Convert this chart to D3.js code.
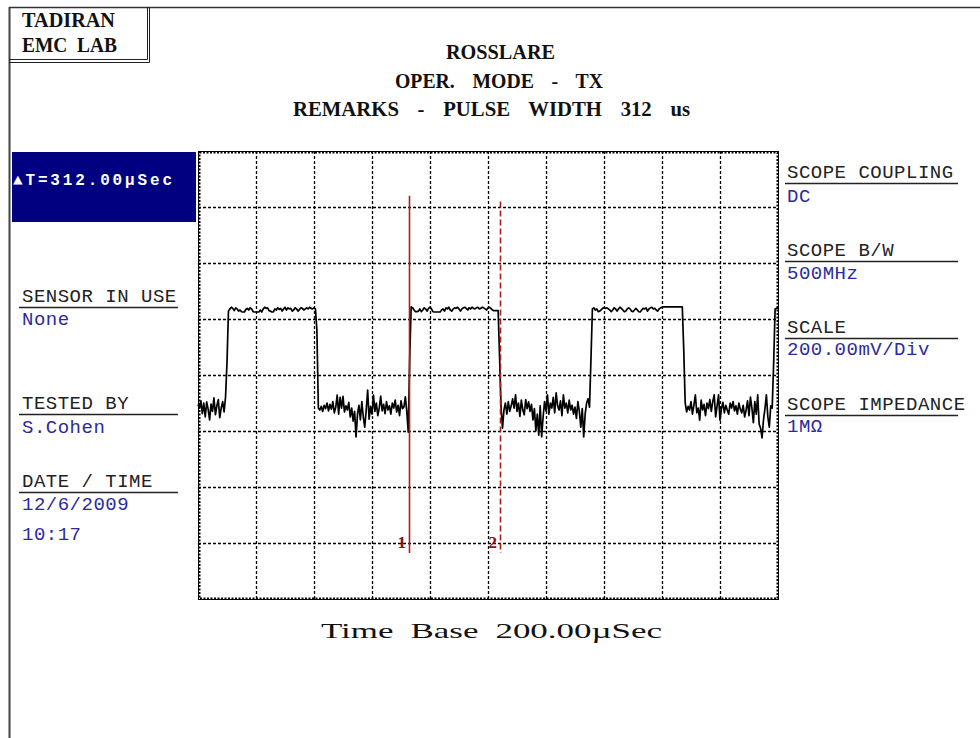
<!DOCTYPE html>
<html><head><meta charset="utf-8">
<script src="https://cdn.jsdelivr.net/npm/d3@7"></script>
<style>html,body{margin:0;padding:0;background:#fff;} svg{display:block;}</style>
</head><body>
<svg id="c" width="980" height="738"></svg>
<script>
// ---------------- DATA ----------------
const labName = ["TADIRAN", "EMC LAB"];
const titleLines = ["ROSSLARE", "OPER. MODE - TX", "REMARKS - PULSE WIDTH 312 us"];
const deltaText = "\u25B2T=312.00\u00B5Sec";
const timeBaseText = "Time Base 200.00\u00B5Sec";
const leftLabels = ["SENSOR IN USE", "TESTED BY", "DATE / TIME"];
const leftValues = [["None"], ["S.Cohen"], ["12/6/2009", "10:17"]];
const rightLabels = ["SCOPE COUPLING", "SCOPE B/W", "SCALE", "SCOPE IMPEDANCE"];
const rightValues = ["DC", "500MHz", "200.00mV/Div", "1M\u03A9"];

// axes: 10 div x 200 us, 8 div x 200 mV
const timeSpanUs = 2000;
const voltSpanMv = 800;
const timeGridUs = [200, 400, 600, 800, 1000, 1200, 1400, 1600, 1800];
const voltGridMv = [-600, -400, -200, 0, 200, 400, 600];

// cursors
const cursorTimesUs = [728, 1040];
const cursorTopMv = [640, 620];
const cursorBottomMv = -636;
const cursorNames = ["1", "2"];

// trace samples (mV), one every 5 us
const sampleUs = 5;
const segLow0 = [-105, -118, -92, -138, -100, -150, -96, -122, -160, -104, -130, -82, -142, -110, -88, -152, -118, -95, -132, -78];
const edgeRise1 = [45];
const segHigh1 = [228, 236, 242, 238, 230, 240, 236, 228, 232, 226,
  225, 225, 234, 238, 232, 240, 236, 226, 225, 225,
  225, 225, 232, 225, 236, 242, 238, 240, 230, 228,
  225, 225, 236, 232, 240, 234, 238, 228, 236, 242,
  232, 240, 236, 238, 228, 232, 240, 236, 228, 234,
  240, 238, 232, 236, 240, 236, 242, 238, 236, 240, 236];
const edgeFall1 = [160];
const segLow1 = [-118, -125, -112, -130, -108, -120, -100, -128, -105, -122,
  -95, -135, -115, -72, -140, -80, -118, -76, -132, -110,
  -125, -98, -150, -118, -165, -130, -221, -140, -108, -160,
  -95, -150, -186, -125, -54, -158, -112, -140, -72, -130,
  -100, -145, -118, -75, -128, -105, -138, -95, -125, -110,
  -140, -100, -118, -90, -132, -108, -145, -92, -120, -115,
  -78, -130, -204];
const edgeRise2 = [60];
const segHigh2 = [243, 240, 232, 226, 226, 228, 236, 226, 232, 240,
  236, 228, 238, 242, 236, 226, 225, 225, 225, 225,
  225, 232, 236, 228, 240, 236, 242, 232, 228, 236,
  240, 238, 242, 236, 228, 236, 240, 242, 238, 232,
  240, 236, 242, 238, 236, 240, 242, 236, 238, 242,
  240, 236, 232, 240, 242, 238, 232, 230, 230, 230, 230];
const edgeFall2 = [60];
const segLow2 = [-115, -190, -125, -100, -140, -95, -130, -110, -85, -118,
  -71, -130, -100, -148, -90, -125, -142, -88, -120, -96,
  -130, -105, -160, -120, -200, -140, -215, -110, -221, -150,
  -95, -128, -71, -140, -100, -118, -80, -135, -64, -110,
  -125, -92, -145, -71, -118, -100, -135, -90, -125, -108,
  -140, -115, -155, -95, -130, -186, -120, -221, -140, -100,
  -85, -115];
const edgeRise3 = [55];
const segHigh3 = [236, 240, 232, 236, 226, 228, 232, 238, 240, 238,
  240, 236, 232, 226, 232, 240, 236, 228, 236, 242,
  238, 232, 226, 228, 236, 240, 236, 228, 226, 232,
  238, 232, 226, 225, 232, 238, 236, 240, 228, 236,
  240, 242, 236, 238, 232, 228, 236, 240, 242, 243,
  243, 243, 243, 243, 243, 243, 243, 243, 243, 243,
  243, 243, 243];
const edgeFall3 = [90];
const segLow3 = [-100, -132, -112, -125, -95, -140, -108, -71, -135, -118,
  -161, -90, -125, -105, -145, -100, -120, -88, -130, -95,
  -71, -150, -110, -71, -161, -120, -98, -135, -108, -125,
  -140, -100, -118, -95, -128, -110, -140, -100, -122, -135,
  -108, -150, -125, -92, -145, -79, -118, -170, -95, -140,
  -71, -175, -190, -225, -160, -120, -71, -150, -186, -110,
  -118];
const edgeRise4 = [43];
const segHigh4 = [236, 238, 240];

// ---------------- DRAW ----------------
const traceMv = [].concat(segLow0, edgeRise1, segHigh1, edgeFall1, segLow1, edgeRise2,
  segHigh2, edgeFall2, segLow2, edgeRise3, segHigh3, edgeFall3, segLow3, edgeRise4, segHigh4);

const svg = d3.select("#c");
const P = {x0: 198, x1: 778, y0: 151, y1: 599};
const x = d3.scaleLinear().domain([0, timeSpanUs]).range([P.x0, P.x1]);
const y = d3.scaleLinear().domain([-voltSpanMv, voltSpanMv]).range([P.y1, P.y0]);

svg.append("rect").attr("width", 980).attr("height", 738).attr("fill", "#fff");

// page border lines
const border = svg.append("g").attr("fill", "none");
border.append("line").attr("x1", 9).attr("x2", 980).attr("y1", 7.5).attr("y2", 7.5).attr("stroke", "#333").attr("stroke-width", 1.5);
border.append("line").attr("x1", 9.5).attr("x2", 9.5).attr("y1", 7).attr("y2", 738).attr("stroke", "#444").attr("stroke-width", 2);
// lab box (double edge)
border.append("line").attr("x1", 147.5).attr("x2", 147.5).attr("y1", 7).attr("y2", 59.5).attr("stroke", "#222");
border.append("line").attr("x1", 149.5).attr("x2", 149.5).attr("y1", 7).attr("y2", 62.5).attr("stroke", "#222");
border.append("line").attr("x1", 9).attr("x2", 147.5).attr("y1", 59.5).attr("y2", 59.5).attr("stroke", "#222");
border.append("line").attr("x1", 9).attr("x2", 149.5).attr("y1", 62.5).attr("y2", 62.5).attr("stroke", "#222");

const serif = "'Liberation Serif', 'DejaVu Serif', serif";
const mono = "'Liberation Mono', 'DejaVu Sans Mono', monospace";

// lab name
const labPos = [{x: 22, y: 27, w: 93}, {x: 22, y: 52, w: 95}];
svg.selectAll("text.lab").data(labName).join("text").attr("class", "lab")
  .attr("x", (d, i) => labPos[i].x).attr("y", (d, i) => labPos[i].y)
  .attr("textLength", (d, i) => labPos[i].w).attr("lengthAdjust", "spacingAndGlyphs")
  .attr("word-spacing", 5)
  .attr("font-family", serif).attr("font-weight", "bold").attr("font-size", 20).attr("fill", "#111").text(d => d);

// title
const titlePos = [{x: 446, y: 59, w: 109}, {x: 395, y: 88, w: 208}, {x: 293, y: 116, w: 397}];
svg.selectAll("text.title").data(titleLines).join("text").attr("class", "title")
  .attr("x", (d, i) => titlePos[i].x).attr("y", (d, i) => titlePos[i].y)
  .attr("textLength", (d, i) => titlePos[i].w).attr("lengthAdjust", "spacingAndGlyphs")
  .attr("word-spacing", 13)
  .attr("font-family", serif).attr("font-weight", "bold").attr("font-size", 20).attr("fill", "#111").text(d => d);

// delta box
svg.append("rect").attr("x", 12).attr("y", 152).attr("width", 184).attr("height", 70).attr("fill", "#000080");
svg.append("text").attr("x", 13).attr("y", 185).attr("textLength", 159).attr("lengthAdjust", "spacing")
  .attr("font-family", mono).attr("font-weight", "bold").attr("font-size", 16).attr("fill", "#fff").text(deltaText);

// side panels
const blue = "#2b2b9c";
const leftLabelY = [302, 409, 487];
const leftValueY = [[325], [433], [510, 540]];
leftLabels.forEach((lab, i) => {
  svg.append("text").attr("x", 22).attr("y", leftLabelY[i]).attr("font-family", mono).attr("font-size", 19)
    .attr("letter-spacing", 0.5).attr("fill", "#222").text(lab);
  svg.append("line").attr("x1", 19).attr("x2", 178).attr("y1", leftLabelY[i] + 5.5).attr("y2", leftLabelY[i] + 5.5)
    .attr("stroke", "#222").attr("stroke-width", 1.5);
  leftValues[i].forEach((v, j) => {
    svg.append("text").attr("x", 22).attr("y", leftValueY[i][j]).attr("font-family", mono).attr("font-size", 19)
      .attr("letter-spacing", 0.5).attr("fill", blue).text(v);
  });
});
const rightLabelY = [178, 256, 333, 410];
const rightValueY = [202, 279, 355, 432];
rightLabels.forEach((lab, i) => {
  svg.append("text").attr("x", 787).attr("y", rightLabelY[i]).attr("font-family", mono).attr("font-size", 19)
    .attr("letter-spacing", 0.5).attr("fill", "#222").text(lab);
  svg.append("line").attr("x1", 785).attr("x2", 958).attr("y1", rightLabelY[i] + 5.5).attr("y2", rightLabelY[i] + 5.5)
    .attr("stroke", "#222").attr("stroke-width", 1.5);
  svg.append("text").attr("x", 787).attr("y", rightValueY[i]).attr("font-family", mono).attr("font-size", 19)
    .attr("letter-spacing", 0.5).attr("fill", blue).text(rightValues[i]);
});

// grid via axes
const gx = svg.append("g").attr("transform", `translate(0,${P.y1})`)
  .call(d3.axisBottom(x).tickValues(timeGridUs).tickSize(-(P.y1 - P.y0)).tickFormat(""));
const gy = svg.append("g").attr("transform", `translate(${P.x0},0)`)
  .call(d3.axisLeft(y).tickValues(voltGridMv).tickSize(-(P.x1 - P.x0)).tickFormat(""));
[gx, gy].forEach(g => {
  g.select(".domain").remove();
  g.selectAll(".tick line").attr("stroke", "#000").attr("stroke-width", 1.3).attr("stroke-dasharray", "3,2");
});

// frame
svg.append("rect").attr("x", P.x0 + 0.5).attr("y", P.y0 + 0.5).attr("width", P.x1 - P.x0).attr("height", P.y1 - P.y0)
  .attr("fill", "none").attr("stroke", "#000").attr("stroke-width", 1);
svg.append("rect").attr("x", P.x0 + 1.5).attr("y", P.y0 + 1.5).attr("width", P.x1 - P.x0 - 2).attr("height", P.y1 - P.y0 - 2)
  .attr("fill", "none").attr("stroke", "#000").attr("stroke-width", 2).attr("stroke-dasharray", "2,1.5");

// trace
const line = d3.line().x((d, i) => x(i * sampleUs)).y(d => y(d));
svg.append("path").datum(traceMv).attr("d", line).attr("fill", "none")
  .attr("stroke", "#000").attr("stroke-width", 1.7).attr("stroke-linejoin", "round");

// cursors
const cursorColor = "#b01c1c";
cursorTimesUs.forEach((t, i) => {
  svg.append("line").attr("x1", Math.round(x(t)) + 0.5).attr("x2", Math.round(x(t)) + 0.5)
    .attr("y1", y(cursorTopMv[i])).attr("y2", y(cursorBottomMv))
    .attr("stroke", cursorColor).attr("stroke-width", 1.6)
    .attr("stroke-dasharray", i === 1 ? "6,3" : null);
  svg.append("text").attr("x", Math.round(x(t)) - 3).attr("y", 548).attr("text-anchor", "end")
    .attr("font-family", serif).attr("font-weight", "bold").attr("font-size", 17).attr("fill", "#8b1010").text(cursorNames[i]);
});

// time base
svg.append("text").attr("x", 321).attr("y", 638).attr("textLength", 341).attr("lengthAdjust", "spacingAndGlyphs")
  .attr("word-spacing", 5)
  .attr("font-family", serif).attr("font-size", 21).attr("fill", "#111").text(timeBaseText);
</script>
</body></html>
